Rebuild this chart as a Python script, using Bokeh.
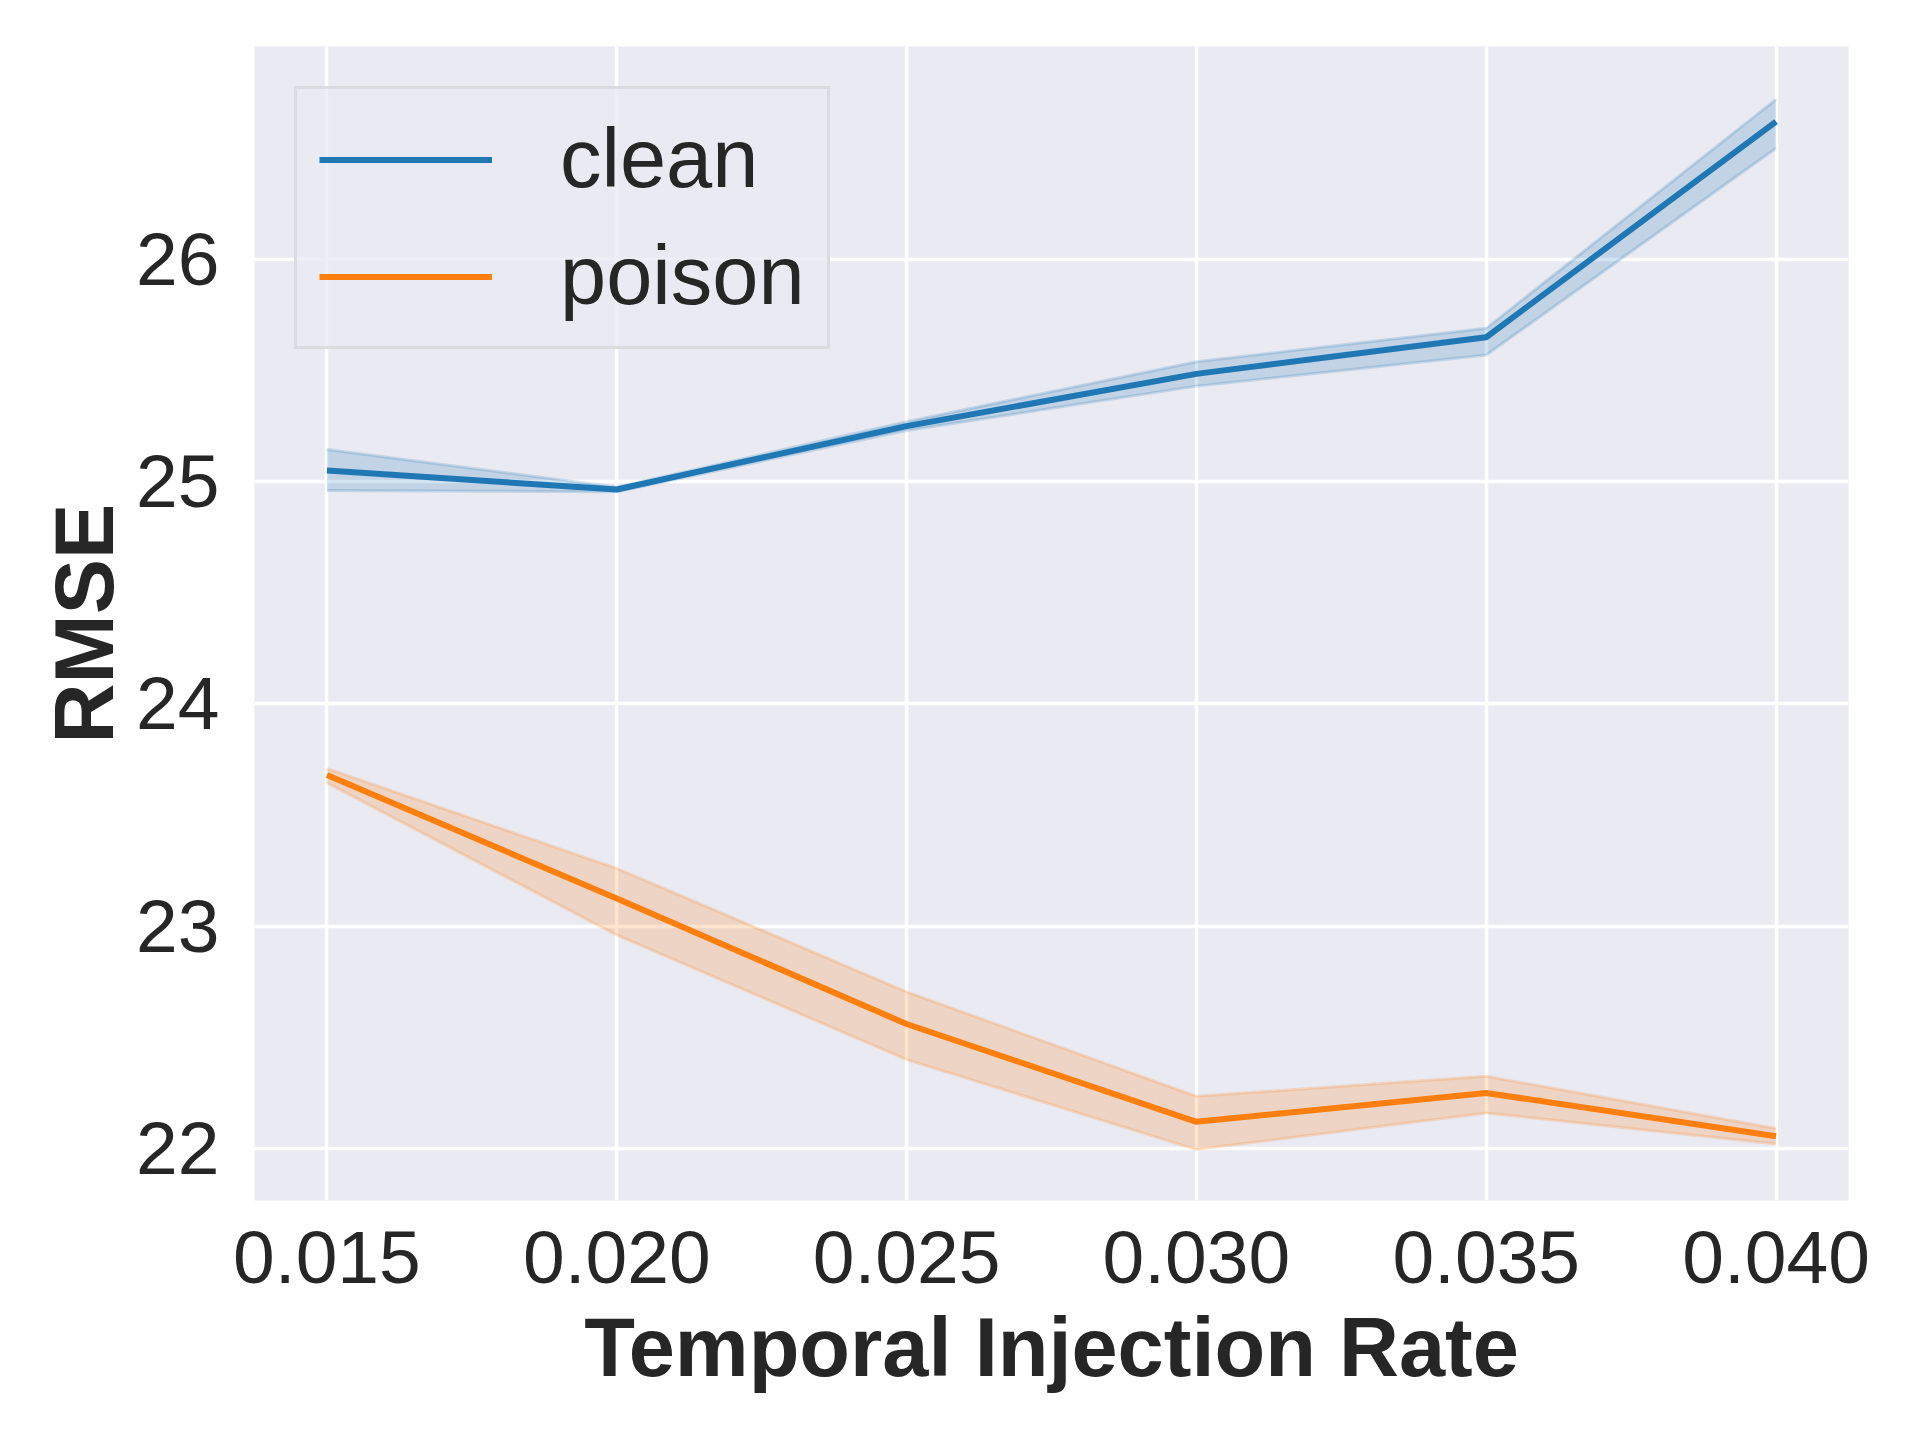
from bokeh.plotting import figure
from bokeh.models import FixedTicker, Range1d, Legend, LegendItem, ColumnDataSource
from bokeh.embed import file_html
from bokeh.resources import INLINE

rates = [0.015, 0.020, 0.025, 0.030, 0.035, 0.040]
rate_labels = ["0.015", "0.020", "0.025", "0.030", "0.035", "0.040"]
clean_mean = [25.05, 24.965, 25.25, 25.485, 25.65, 26.62]
clean_lo = [24.96, 24.955, 25.23, 25.43, 25.57, 26.50]
clean_hi = [25.145, 24.975, 25.27, 25.54, 25.69, 26.72]
poison_mean = [23.68, 23.125, 22.56, 22.12, 22.25, 22.055]
poison_lo = [23.645, 22.96, 22.40, 21.995, 22.16, 22.02]
poison_hi = [23.71, 23.26, 22.705, 22.235, 22.325, 22.09]
y_ticks = [22, 23, 24, 25, 26]

FONT = "Liberation Sans"
TXT = "#262626"
BLUE = "#1f77b4"
ORANGE = "#ff7f0e"

p = figure(frame_width=1594, frame_height=1154,
           min_border_left=254, min_border_right=56, min_border_top=46, min_border_bottom=224,
           x_range=Range1d(0.01375, 0.04125), y_range=Range1d(21.766, 26.958),
           output_backend="svg", toolbar_location=None)
p.background_fill_color = "#EAEAF2"
p.border_fill_color = "white"
p.outline_line_color = None

clean_src = ColumnDataSource(dict(x=rates, m=clean_mean, lo=clean_lo, hi=clean_hi))
poison_src = ColumnDataSource(dict(x=rates, m=poison_mean, lo=poison_lo, hi=poison_hi))

for src, col in ((clean_src, BLUE), (poison_src, ORANGE)):
    p.varea(x="x", y1="lo", y2="hi", source=src, fill_color=col, fill_alpha=0.2)
    p.line(x="x", y="lo", source=src, line_color=col, line_alpha=0.2, line_width=3)
    p.line(x="x", y="hi", source=src, line_color=col, line_alpha=0.2, line_width=3)

r_clean = p.line(x="x", y="m", source=clean_src, line_color=BLUE, line_width=6)
r_poison = p.line(x="x", y="m", source=poison_src, line_color=ORANGE, line_width=6)

p.xaxis.ticker = FixedTicker(ticks=rates)
p.xaxis.major_label_overrides = {r: l for r, l in zip(rates, rate_labels)}
p.yaxis.ticker = FixedTicker(ticks=y_ticks)
p.xgrid.ticker = FixedTicker(ticks=rates)
p.ygrid.ticker = FixedTicker(ticks=y_ticks)
for g in (p.xgrid, p.ygrid):
    g.grid_line_color = "white"
    g.grid_line_width = 3.5

p.xaxis.axis_label = "Temporal Injection Rate"
p.yaxis.axis_label = "RMSE"
for ax in (p.xaxis, p.yaxis):
    ax.axis_line_color = None
    ax.major_tick_line_color = None
    ax.minor_tick_line_color = None
    ax.major_tick_out = 0
    ax.major_tick_in = 0
    ax.minor_tick_out = 0
    ax.major_label_text_font = FONT
    ax.major_label_text_font_size = "75px"
    ax.major_label_text_color = TXT
    ax.axis_label_text_font = FONT
    ax.axis_label_text_font_size = "83px"
    ax.axis_label_text_font_style = "bold"
    ax.axis_label_text_color = TXT
p.xaxis.major_label_standoff = 31
p.xaxis.axis_label_standoff = 15
p.yaxis.major_label_standoff = 35
p.yaxis.axis_label_standoff = 2

legend = Legend(items=[LegendItem(label="clean", renderers=[r_clean]),
                       LegendItem(label="poison", renderers=[r_poison])],
                location="top_left", margin=40, padding=22, spacing=21,
                glyph_width=173, glyph_height=77, label_height=77, label_standoff=68,
                label_text_font=FONT, label_text_font_size="83px", label_text_color=TXT,
                background_fill_color="#EAEAF2", background_fill_alpha=0.8,
                border_line_color="#CCCCCC", border_line_width=3)
p.add_layout(legend)

open("out.html", "w").write(file_html(p, INLINE))
